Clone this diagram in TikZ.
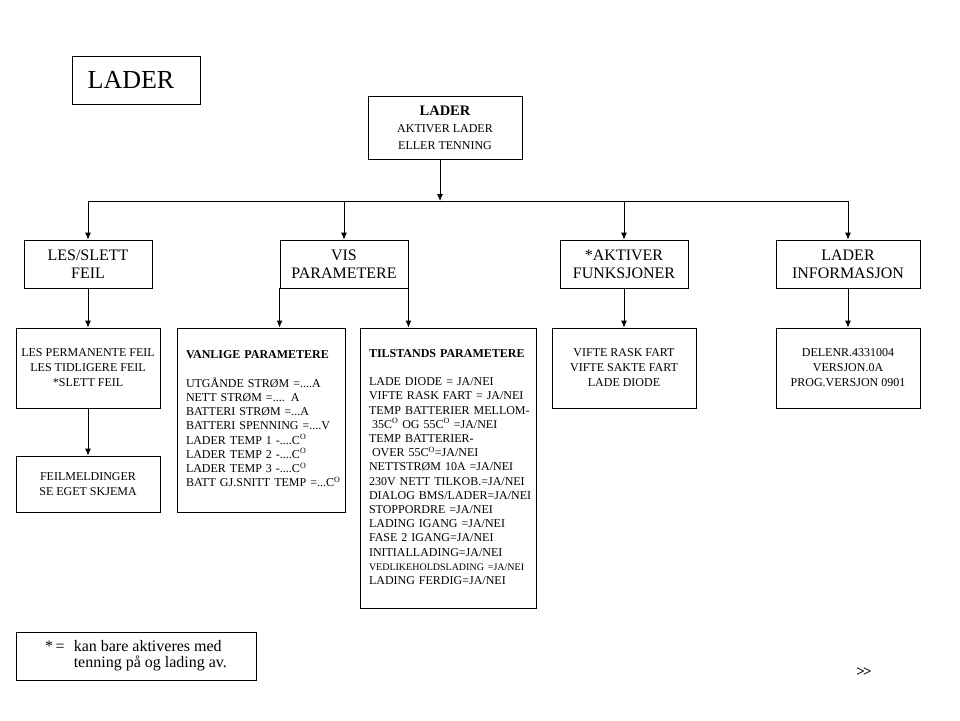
\documentclass[tikz,border=0pt]{standalone}
\usepackage{fontspec}
\setmainfont{Liberation Serif}
\usetikzlibrary{arrows.meta}

\def\gradC{C\textsuperscript{O}}
\def\jn{=JA/NEI}

\begin{document}
\begin{tikzpicture}[x=1pt,y=-1pt,>={Latex[length=7pt,width=6pt]},line width=0.9pt,
	box/.style={draw,inner sep=3pt,align=center,font=\fontsize{12}{15}\selectfont},
	menu/.style={box,minimum width=128pt,minimum height=48pt,font=\fontsize{16}{18}\selectfont},
	liste/.style={box,align=left,inner xsep=9pt,font=\fontsize{12}{14.2}\selectfont}]
\useasboundingbox (0,0) rectangle (960,720);
\node[box,minimum width=128pt,minimum height=48pt,font=\fontsize{26}{28}\selectfont] (title) at (136,80) {LADER\kern10pt};
\node[box,minimum width=154pt,minimum height=63pt,font=\fontsize{12}{17}\selectfont] (top) at (445,128)
	{{\fontsize{14.5}{17}\selectfont\bfseries LADER}\\AKTIVER LADER\\ELLER TENNING};
\node[menu] (les) at (88,264) {LES/SLETT\\FEIL};
\node[menu] (vis) at (344,264) {VIS\\PARAMETERE};
\node[menu] (akt) at (624,264) {*AKTIVER\\FUNKSJONER};
\node[menu,minimum width=144pt] (info) at (848,264) {LADER\\INFORMASJON};
\node[box,minimum width=144pt,minimum height=80pt] (lesperm) at (88,368)
	{LES PERMANENTE FEIL\\LES TIDLIGERE FEIL\\*SLETT FEIL};
\node[box,minimum width=144pt,minimum height=56pt] (feil) at (88,484)
	{FEILMELDINGER\\SE EGET SKJEMA};
\node[liste,text width=150pt,minimum height=184pt] (vanlige) at (261,420)
	{\begin{tabular}{@{}l@{}}
	\textbf{VANLIGE PARAMETERE}\\[14.2pt]
	UTGÅNDE STRØM =....A\\
	NETT STRØM =.... A\\
	BATTERI STRØM =...A\\
	BATTERI SPENNING =....V\\
	LADER TEMP 1 -....\gradC\\
	LADER TEMP 2 -....\gradC\\
	LADER TEMP 3 -....\gradC\\
	BATT GJ.SNITT TEMP =...\gradC
	\end{tabular}};
\node[liste,text width=158pt,minimum height=280pt] (tilst) at (448,468)
	{\begin{tabular}{@{}l@{}}
	\textbf{TILSTANDS PARAMETERE}\\[14.2pt]
	LADE DIODE = JA/NEI\\
	VIFTE RASK FART = JA/NEI\\
	TEMP BATTERIER MELLOM-\\
	\hspace*{3pt}35\gradC{} OG 55\gradC{} \jn\\
	TEMP BATTERIER-\\
	\hspace*{3pt}OVER 55\gradC\jn\\
	NETTSTRØM 10A \jn\\
	230V NETT TILKOB.\jn\\
	DIALOG BMS/LADER\jn\\
	STOPPORDRE \jn\\
	LADING IGANG \jn\\
	FASE 2 IGANG\jn\\
	INITIALLADING\jn\\
	{\fontsize{10}{14.2}\selectfont VEDLIKEHOLDSLADING \jn}\\
	LADING FERDIG\jn
	\end{tabular}};
\node[box,minimum width=144pt,minimum height=80pt] (vifte) at (624,368)
	{VIFTE RASK FART\\VIFTE SAKTE FART\\LADE DIODE};
\node[box,minimum width=144pt,minimum height=80pt] (delenr) at (848,368)
	{DELENR.4331004\\VERSJON.0A\\PROG.VERSJON 0901};
\node[box,minimum width=240pt,minimum height=48pt,font=\fontsize{16}{16.5}\selectfont] (note) at (136,656)
	{\begin{tabular}{@{}l@{\hspace{9pt}}l@{}}
	*\,= & kan bare aktiveres med\\
	 & tenning på og lading av.
	\end{tabular}};
\node[font=\fontsize{15}{15}\selectfont\bfseries] (neste) at (864,672) {>\kern-2pt>};
\coordinate (bus) at (440,201);
\draw[->] (bus |- top.south) -- (bus);
\draw (les.north |- bus) -- (info.north |- bus);
\foreach \n in {les,vis,akt,info}{
	\draw[->] (\n.north |- bus) -- (\n.north);
}
\draw[->] (les.south) -- (lesperm.north);
\draw[->] (lesperm.south) -- (feil.north);
\draw[->] (vis.south west) -- (vis.south west |- vanlige.north);
\draw[->] (vis.south east) -- (vis.south east |- tilst.north);
\draw[->] (akt.south) -- (vifte.north);
\draw[->] (info.south) -- (delenr.north);
\end{tikzpicture}
\end{document}
